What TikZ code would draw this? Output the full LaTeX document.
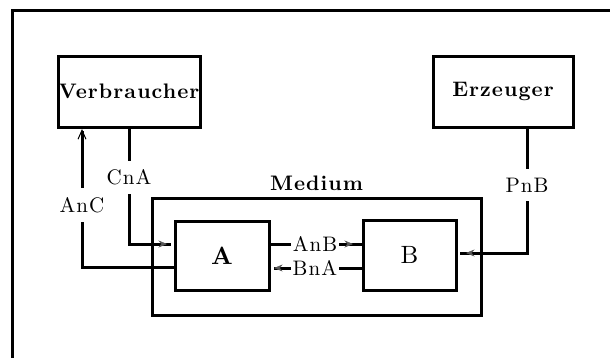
\documentclass[tikz,border=0pt]{standalone}
\usepackage{fontspec}
\setmainfont{lmroman10-regular}[Extension=.otf, BoldFont=lmroman10-bold, LetterSpace=5]
\usetikzlibrary{arrows.meta,decorations.markings,calc}
\begin{document}
\begin{tikzpicture}[x=1pt,y=-1pt, line width=3pt,
  box/.style={draw, rectangle, inner sep=0pt, outer sep=0pt, font=\fontsize{21}{25}\selectfont\bfseries},
  lab/.style={fill=white, inner xsep=2pt, inner ysep=9pt, font=\fontsize{21}{25}\selectfont},
  hlab/.style={fill=white, inner xsep=2pt, inner ysep=1pt, font=\fontsize{21}{25}\selectfont},
  ttl/.style={inner sep=0pt, font=\fontsize{21}{25}\selectfont\bfseries},
  gtip/.style={postaction={decorate, decoration={markings, mark=at position #1 with {\arrow{Stealth[length=8.5pt,width=7pt,line width=0.5pt,color=black!65]}}}}},
  barb/.style={-{Straight Barb[length=9pt,width=8pt,line width=1pt]}}
]
\useasboundingbox (0,0) rectangle (610,357);
% frame
\coordinate (fTL) at (12,10);
\draw (12,360) -- (fTL) -- (612,10);
% boxes
\node[box, minimum width=142pt, minimum height=71pt] (V) at (129,91.5) {Verbraucher};
\node[box, minimum width=140pt, minimum height=71pt] (E) at (503,91.5) {Erzeuger};
\node[box, minimum width=329pt, minimum height=117pt] (M) at (316.5,256.5) {};
\node[ttl] (ml) at (316.5,183) {Medium};
\node[box, font=\fontsize{25}{30}\selectfont\bfseries, minimum width=94pt, minimum height=69pt] (A) at (222,255.5) {A};
\node[box, font=\fontsize{25}{30}\selectfont, minimum width=93pt, minimum height=70pt] (B) at (409.5,255) {B};
% connectors
\coordinate (cnaE) at ([xshift=-4pt,yshift=11.5pt]A.west);
\draw[gtip=-4pt] (V.south) -- node[lab,pos=0.43]{CnA} (V.south |- cnaE) -- (cnaE);
\coordinate (ancS) at ([yshift=-11.5pt]A.west);
\coordinate (ancT) at ([xshift=-47pt,yshift=-2pt]V.south);
\draw[barb] (ancS) -- (ancS -| ancT) -- node[lab,pos=0.45]{AnC} (ancT);
\coordinate (pnbT) at ([xshift=24pt]E.south);
\coordinate (pnbE) at ([xshift=4pt,yshift=2pt]B.east);
\draw[gtip=-6pt] (pnbT) -- node[lab,pos=0.46]{PnB} (pnbT |- pnbE) -- (pnbE);
\coordinate (anbS) at ([yshift=11.5pt]A.east);
\draw[gtip=-10pt] (anbS) -- node[hlab,pos=0.49]{AnB} (anbS -| B.west);
\coordinate (bnaE) at ([xshift=5pt,yshift=-12.5pt]A.east);
\draw[gtip=-0.1pt] (bnaE -| B.west) -- node[hlab,pos=0.54]{BnA} (bnaE);
\end{tikzpicture}
\end{document}
